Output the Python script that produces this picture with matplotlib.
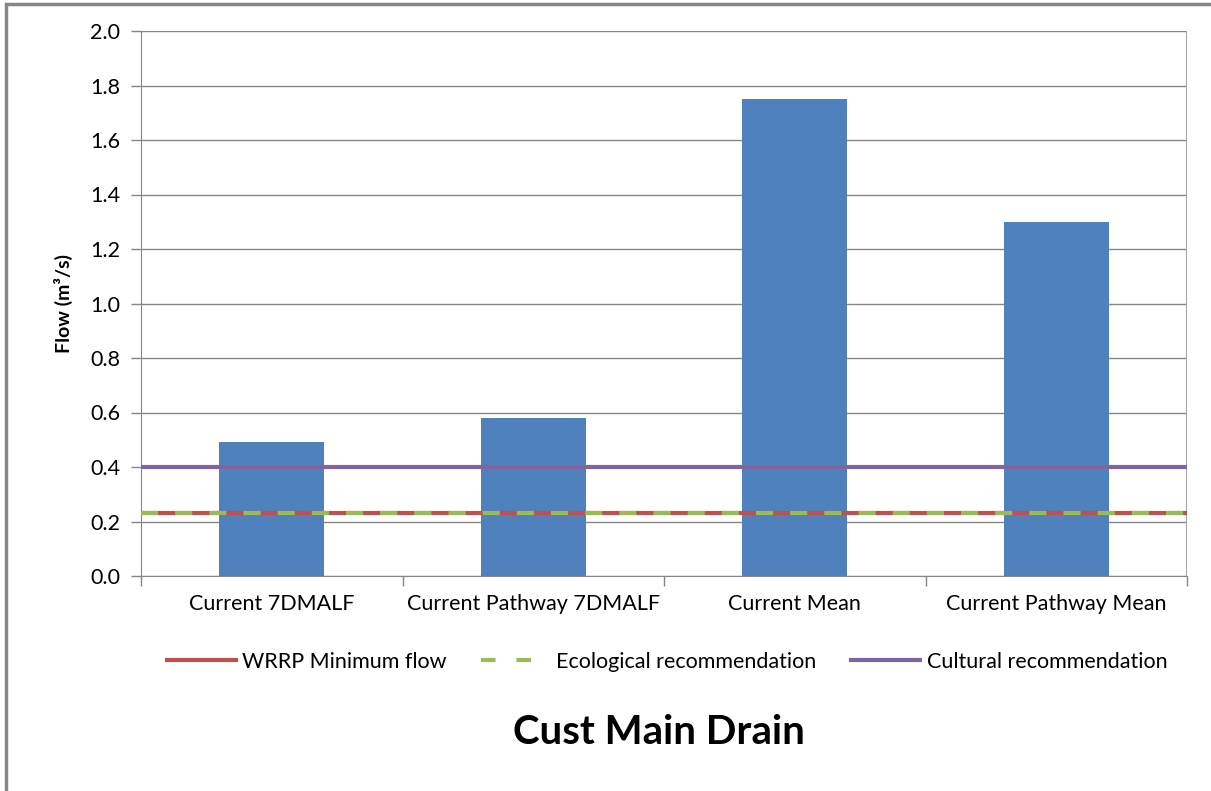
import matplotlib.pyplot as plt
from matplotlib.patches import Rectangle
from matplotlib.lines import Line2D
import numpy as np

plt.rcParams['font.family'] = ['Lato', 'DejaVu Sans']

# data
categories = ["Current 7DMALF", "Current Pathway 7DMALF", "Current Mean", "Current Pathway Mean"]
flows = [0.49, 0.58, 1.75, 1.30]
wrrp_min = 0.23
ecological = 0.23
cultural = 0.40
y_ticks = [0.0, 0.2, 0.4, 0.6, 0.8, 1.0, 1.2, 1.4, 1.6, 1.8, 2.0]

W, H = 1211, 791
fig = plt.figure(figsize=(W / 100, H / 100), dpi=100)
ax = fig.add_axes([141 / W, 1 - 576 / H, (1187 - 141) / W, (576 - 31) / H])

# outer chart frame (right and bottom cut off in the reference)
fig.add_artist(Rectangle((6 / W, -0.1), 1.2, 1 - 4 / H + 0.1, transform=fig.transFigure,
                         fill=False, edgecolor='#878787', linewidth=2.5))

x = np.arange(len(categories))
ax.bar(x, flows, width=0.4, color='#4f81bd', zorder=2)

ax.axhline(wrrp_min, color='#c0504d', linewidth=3, zorder=3)
ax.axhline(ecological, color='#9bbb59', linewidth=3, linestyle=(0, (4.1, 4.1)), zorder=4)
ax.axhline(cultural, color='#8064a2', linewidth=3, zorder=3)

ax.set_xlim(-0.5, len(categories) - 0.5)
ax.set_ylim(0, 2.0)
ax.set_yticks(y_ticks)
ax.set_yticklabels([f"{t:.1f}" for t in y_ticks], fontsize=15.5)
ax.set_xticks(x)
ax.set_xticklabels(categories, fontsize=15.5)
ax.tick_params(axis='x', length=0, pad=13)
ax.set_xticks(np.arange(-0.5, len(categories)), minor=True)
ax.tick_params(axis='x', which='minor', length=7, color='#868686', width=1)
ax.tick_params(axis='y', length=7, color='#868686', width=1, pad=8)
ax.grid(axis='y', color='#868686', linewidth=1, zorder=0)
ax.set_axisbelow(True)

for side in ['top', 'right']:
    ax.spines[side].set_visible(False)
for side in ['left', 'bottom']:
    ax.spines[side].set_color('#868686')
# right edge of plot area shows a gridline-coloured border
ax.axvline(len(categories) - 0.5, color='#a6a6a6', linewidth=1.5, zorder=1)

ax.set_ylabel("Flow (m³/s)", fontsize=14, fontweight='bold', labelpad=12)

handles = [
    Line2D([], [], color='#c0504d', linewidth=3),
    Line2D([], [], color='#9bbb59', linewidth=3, linestyle=(0, (3.5, 5))),
    Line2D([], [], color='#8064a2', linewidth=3),
]
labels = ["WRRP Minimum flow", "Ecological recommendation", "Cultural recommendation"]
fig.legend(handles, labels, loc='center', bbox_to_anchor=(667 / W, 1 - 662 / H), ncol=3,
           frameon=False, fontsize=15.5, handlelength=3.2, handletextpad=0.3, columnspacing=1.6)

fig.text(659 / W, 1 - 733 / H, "Cust Main Drain", fontsize=29, fontweight='bold',
         ha='center', va='center')

fig.savefig("out.png", dpi=100)
